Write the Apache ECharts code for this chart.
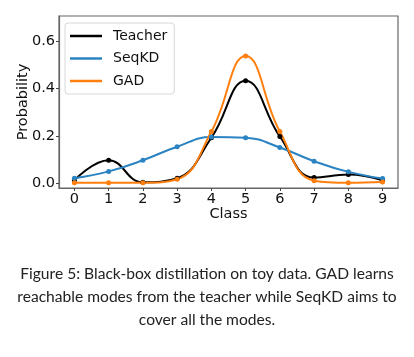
<!DOCTYPE html>
<html>
<head>
<meta charset="utf-8">
<script src="https://cdn.jsdelivr.net/npm/echarts@6/dist/echarts.min.js"></script>
<style>
html,body{margin:0;padding:0;background:#fff;}
#chart{width:414px;height:357px;}
</style>
</head>
<body>
<div id="chart"></div>
<script>
var classes = [0,1,2,3,4,5,6,7,8,9];
var teacher = [0.012,0.097,0.004,0.021,0.192,0.432,0.197,0.024,0.037,0.012];
var seqkd   = [0.021,0.050,0.097,0.154,0.195,0.192,0.151,0.093,0.048,0.020];
var gad     = [0.002,0.002,0.002,0.017,0.218,0.536,0.218,0.011,0.002,0.005];
var yTicks = [0,0.2,0.4,0.6];
var captionLines = [
  'Figure 5: Black-box distillation on toy data. GAD learns',
  'reachable modes from the teacher while SeqKD aims to',
  'cover all the modes.'
];

function pairs(vals){ return classes.map(function(c,i){ return [c, vals[i]]; }); }

var chart = echarts.init(document.getElementById('chart'), null, {renderer:'canvas'});
var font = 'DejaVu Sans';
function mk(name, vals, color){
  return {
    name: name, type: 'line', data: pairs(vals), smooth: 0.45,
    symbol: 'circle', symbolSize: 5, showSymbol: true,
    lineStyle: {color: color, width: 2}, itemStyle: {color: color},
    emphasis: {disabled: true}, animation: false, z: 3
  };
}
var option = {
  animation: false,
  backgroundColor: '#fff',
  grid: {left: 59, top: 16, right: 16, bottom: 169, show: true, borderColor: '#666', borderWidth: 1.2, backgroundColor: 'transparent'},
  xAxis: {
    type: 'value', min: -0.45, max: 9.45,
    name: 'Class', nameLocation: 'middle', nameGap: 19, nameMoveOverlap: false,
    nameTextStyle: {fontFamily: font, fontSize: 14.5, color: '#111', verticalAlign: 'top'},
    axisLine: {show: true, onZero: false, lineStyle: {color: '#666', width: 1.2}},
    axisTick: {show: true, inside: false, length: 3, customValues: classes, lineStyle: {color: '#444'}},
    axisLabel: {customValues: classes, fontFamily: font, fontSize: 14.5, color: '#111', margin: 4},
    splitLine: {show: false}
  },
  yAxis: {
    type: 'value', min: -0.02, max: 0.705,
    name: 'Probability', nameLocation: 'middle', nameGap: 28, nameRotate: 90, nameMoveOverlap: false,
    nameTextStyle: {fontFamily: font, fontSize: 14.5, color: '#111'},
    axisLine: {show: true, onZero: false, lineStyle: {color: '#666', width: 1.2}},
    axisTick: {show: true, inside: false, length: 3, customValues: yTicks, lineStyle: {color: '#444'}},
    axisLabel: {customValues: yTicks, fontFamily: font, fontSize: 14.5, color: '#111', margin: 4,
      formatter: function(v){ return v.toFixed(1); }},
    splitLine: {show: false}
  },
  legend: {
    orient: 'vertical', left: 65, top: 23,
    data: ['Teacher','SeqKD','GAD'],
    icon: 'rect', itemWidth: 32, itemHeight: 2.5, itemGap: 4.5,
    padding: [4, 7, 4, 5],
    borderColor: '#d8d8d8', borderWidth: 1, borderRadius: 3,
    backgroundColor: 'rgba(255,255,255,0.8)',
    textStyle: {fontFamily: font, fontSize: 14, color: '#111', lineHeight: 18, padding: [0,0,0,6]},
    selectedMode: false
  },
  graphic: captionLines.map(function(t, i){
    return {type: 'text', left: 'center', top: 266 + i*23.2,
      style: {text: t, font: '15.6px Lato', fill: '#222'}};
  }),
  series: [mk('Teacher', teacher, '#000000'), mk('SeqKD', seqkd, '#2b83c2'), mk('GAD', gad, '#ff7f0e')]
};
chart.setOption(option);
</script>
</body>
</html>
